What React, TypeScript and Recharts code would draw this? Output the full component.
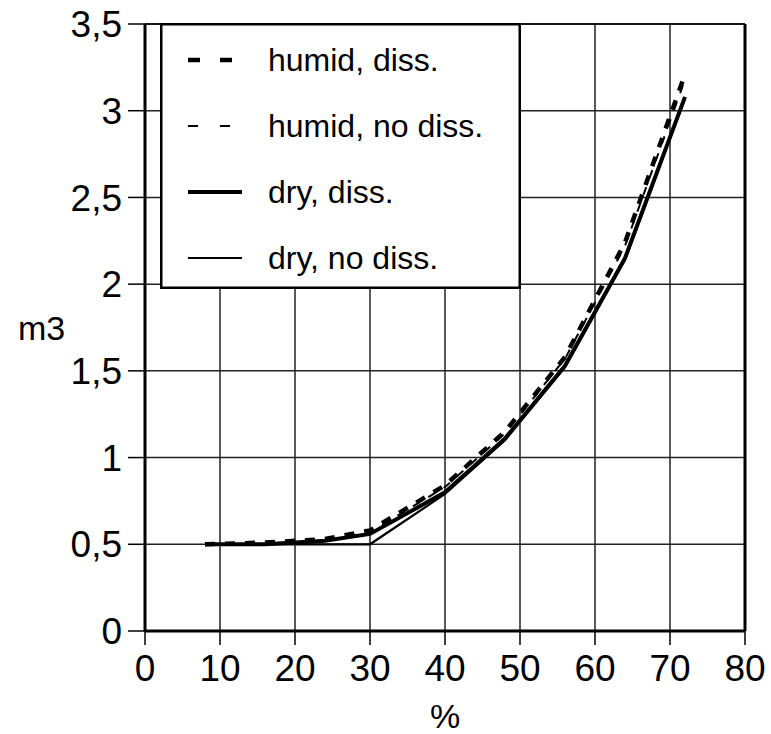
import React from 'react';
import {
  LineChart,
  Line,
  XAxis,
  YAxis,
  CartesianGrid,
  ReferenceLine,
} from 'recharts';

// moisture content (%) sampled for every run
const pct = [8, 16, 24, 30, 40, 48, 56, 64, 72];

// volume (m3) per run
const humidDiss = [0.5, 0.51, 0.53, 0.58, 0.84, 1.15, 1.58, 2.24, 3.21];
const humidNoDiss = [0.5, 0.5, 0.52, 0.57, 0.83, 1.14, 1.57, 2.22, 3.18];
const dryDiss = [0.5, 0.5, 0.52, 0.56, 0.8, 1.11, 1.53, 2.15, 3.08];
const dryNoDiss = [0.5, 0.5, 0.5, 0.5, 0.79, 1.1, 1.52, 2.14, 3.07];

const xTicks = [0, 10, 20, 30, 40, 50, 60, 70, 80];
const yTicks = [0, 0.5, 1, 1.5, 2, 2.5, 3, 3.5];

const seriesNames = ['humid, diss.', 'humid, no diss.', 'dry, diss.', 'dry, no diss.'];

const data = pct.map((p, i) => ({
  pct: p,
  humidDiss: humidDiss[i],
  humidNoDiss: humidNoDiss[i],
  dryDiss: dryDiss[i],
  dryNoDiss: dryNoDiss[i],
}));

const FONT = '"Liberation Sans", Arial, sans-serif';

// stroke per series, same order as seriesNames
const styles = [
  { width: 4.5, dash: '10 10', key: '12 20' },
  { width: 2, dash: '8 10', key: '10 22' },
  { width: 4, dash: undefined, key: undefined },
  { width: 2.2, dash: undefined, key: undefined },
];

const LegendBox = () => (
  <svg
    width={361}
    height={266}
    style={{ position: 'absolute', left: 160, top: 23, fontFamily: FONT }}
  >
    <rect x={1.25} y={1.25} width={358.5} height={263.5} fill="#fff" stroke="#000" strokeWidth={2.5} />
    {seriesNames.map((name, i) => {
      const cy = 37 + i * 66;
      return (
        <g key={name}>
          <line
            x1={28}
            x2={82}
            y1={cy}
            y2={cy}
            stroke="#000"
            strokeWidth={styles[i].width}
            strokeDasharray={styles[i].key}
          />
          <text x={108} y={cy + 11} fontSize={32} fill="#000">
            {name}
          </text>
        </g>
      );
    })}
  </svg>
);

const fmt = (v: number) => String(v).replace('.', ',');

export default function App() {
  const keys = ['humidDiss', 'humidNoDiss', 'dryDiss', 'dryNoDiss'];
  // solid lines first so the dashes stay visible on top
  const drawOrder = [3, 2, 1, 0];
  return (
    <div style={{ position: 'absolute', left: 0, top: 0, width: 771, height: 734, background: '#fff' }}>
      <LineChart
        width={771}
        height={734}
        data={data}
        margin={{ top: 24, right: 26, left: 0, bottom: 0 }}
        style={{ fontFamily: FONT }}
      >
        <CartesianGrid stroke="#222" strokeWidth={1.5} />
        <XAxis
          dataKey="pct"
          type="number"
          domain={[0, 80]}
          ticks={xTicks}
          interval={0}
          height={103}
          tickSize={14}
          tickMargin={10}
          axisLine={{ stroke: '#000', strokeWidth: 3 }}
          tickLine={{ stroke: '#000', strokeWidth: 1.5 }}
          tick={{ fill: '#000', fontSize: 37 }}
          label={{ value: '%', position: 'insideBottom', offset: 6, fill: '#000', fontSize: 34 }}
        />
        <YAxis
          type="number"
          domain={[0, 3.5]}
          ticks={yTicks}
          interval={0}
          width={145}
          tickSize={17}
          tickMargin={6}
          tickFormatter={fmt}
          axisLine={{ stroke: '#000', strokeWidth: 3 }}
          tickLine={{ stroke: '#000', strokeWidth: 1.5 }}
          tick={{ fill: '#000', fontSize: 37 }}
          label={{ value: 'm3', position: 'insideLeft', offset: 18, fill: '#000', fontSize: 34 }}
        />
        <ReferenceLine x={80} stroke="#000" strokeWidth={3} />
        <ReferenceLine y={3.5} stroke="#000" strokeWidth={1.5} />
        {drawOrder.map((i) => (
          <Line
            key={keys[i]}
            dataKey={keys[i]}
            name={seriesNames[i]}
            type="linear"
            stroke="#000"
            strokeWidth={styles[i].width}
            strokeDasharray={styles[i].dash}
            dot={false}
            isAnimationActive={false}
          />
        ))}
      </LineChart>
      <LegendBox />
    </div>
  );
}
